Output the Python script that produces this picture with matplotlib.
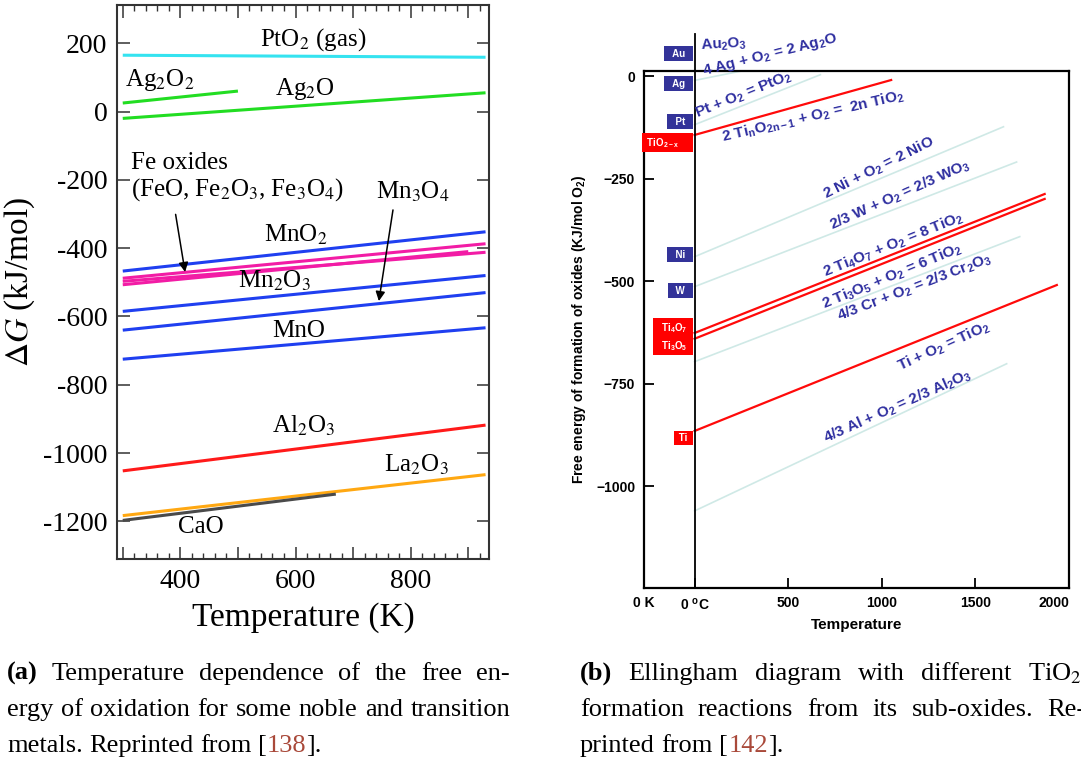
import matplotlib
matplotlib.use("Agg")
import matplotlib.pyplot as plt
from matplotlib.ticker import FixedLocator, FixedFormatter, MultipleLocator

plt.rcParams['mathtext.fontset'] = 'custom'
plt.rcParams['mathtext.rm'] = 'Liberation Sans:bold'
plt.rcParams['mathtext.it'] = 'Liberation Sans:bold'
plt.rcParams['mathtext.bf'] = 'Liberation Sans:bold'

# ---------------- (a) free energy of oxidation, kJ/mol vs K ----------------
a_names = ['PtO2', 'Ag2O2', 'Ag2O', 'MnO2', 'Fe1', 'Fe2', 'Fe3',
           'Mn2O3', 'Mn3O4', 'MnO', 'Al2O3', 'La2O3', 'CaO']
a_t0 = [300, 300, 300, 300, 300, 300, 300, 300, 300, 300, 300, 300, 300]
a_t1 = [930, 500, 930, 930, 930, 930, 900, 930, 930, 930, 930, 930, 670]
a_g0 = [165, 25, -20, -467, -488, -497, -507, -585, -640, -725, -1052, -1183, -1197]
a_g1 = [159, 60, 55, -352, -387, -412, -410, -480, -530, -633, -918, -1063, -1120]
a_colors = ['#35e3f0', '#22dd22', '#22dd22', '#1f3ff0', '#f21ca5', '#f21ca5', '#f21ca5',
            '#1f3ff0', '#1f3ff0', '#1f3ff0', '#ff1a1a', '#ffa812', '#4a4a4a']

a_labels = ['PtO$_2$ (gas)', 'Ag$_2$O$_2$', 'Ag$_2$O', 'MnO$_2$', 'Mn$_2$O$_3$',
            'Mn$_3$O$_4$', 'MnO', 'Al$_2$O$_3$', 'La$_2$O$_3$', 'CaO']
a_lab_t = [631, 365, 617, 600, 563, 803, 605, 614, 809, 436]
a_lab_g = [210, 93, 65, -362, -496, -234, -642, -920, -1034, -1215]

# ---------------- (b) Ellingham diagram, kJ/mol O2 vs degC ----------------
b_red_x0 = [0, 0, 0, 0]
b_red_x1 = [1050, 1870, 1870, 1935]
b_red_y0 = [-143, -626, -640, -865]
b_red_y1 = [-9, -287, -299, -509]

b_pale_x0 = [0, 0, 0, 0, 0, 0]
b_pale_x1 = [457, 672, 1650, 1720, 1737, 1667]
b_pale_y0 = [-10, -118, -440, -513, -696, -1060]
b_pale_y1 = [32, 4, -123, -209, -391, -701]

b_reactions = ['Au$_2$O$_3$', '4 Ag + O$_2$ = 2 Ag$_2$O', 'Pt + O$_2$ = PtO$_2$',
               '2 Ti$_\\mathrm{n}$O$_{\\mathrm{2n-1}}$ + O$_2$ =  2n TiO$_2$',
               '2 Ni + O$_2$ = 2 NiO', '2/3 W + O$_2$ = 2/3 WO$_3$',
               '2 Ti$_4$O$_7$ + O$_2$ = 8 TiO$_2$', '2 Ti$_3$O$_5$ + O$_2$ = 6 TiO$_2$',
               '4/3 Cr + O$_2$ = 2/3 Cr$_2$O$_3$', 'Ti + O$_2$ = TiO$_2$',
               '4/3 Al + O$_2$ = 2/3 Al$_2$O$_3$']
b_react_x = [155, 403, 263, 634, 984, 1097, 1059, 1054, 1172, 1333, 1086]
b_react_y = [77, 52, -45, -99, -223, -289, -411, -489, -516, -660, -806]
b_react_rot = [3, 14, 22, 13, 26.5, 24, 22, 22.4, 21, 24.4, 24]

b_boxes = ['  Au  ', '  Ag  ', '  Pt  ', ' TiO$_{\\mathrm{2-x}}$     ', '  Ni  ', '  W  ',
           '  Ti$_4$O$_7$  ', '  Ti$_3$O$_5$  ', ' Ti ']
b_box_y = [55, -18, -111, -162, -435, -523, -613, -657, -882]
b_box_col = ['#333399', '#333399', '#333399', '#ff0000', '#333399', '#333399',
             '#ff0000', '#ff0000', '#ff0000']

W, H = 1081, 764
fig = plt.figure(figsize=(W / 100, H / 100), dpi=100)

# ======================= panel (a) =======================
ax1 = fig.add_axes([117 / W, 1 - 559 / H, 372 / W, 554 / H])
for i in range(len(a_names)):
    ax1.plot([a_t0[i], a_t1[i]], [a_g0[i], a_g1[i]], color=a_colors[i], lw=2.2,
             solid_capstyle='butt')
ax1.set_xlim(290, 936)
ax1.set_ylim(-1310, 312)
serif = dict(family='Liberation Serif', math_fontfamily='stix')
for s, x, y in zip(a_labels, a_lab_t, a_lab_g):
    ax1.text(x, y, s, fontsize=18, ha='center', va='center', **serif)
ax1.text(315, -150, 'Fe oxides', fontsize=18, ha='left', va='center', **serif)
ax1.text(315, -228, '(FeO, Fe$_2$O$_3$, Fe$_3$O$_4$)', fontsize=18, ha='left',
         va='center', **serif)
arr = dict(arrowstyle='-|>', color='black', lw=1.1, mutation_scale=14)
ax1.annotate('', xy=(409, -478), xytext=(391, -293), arrowprops=arr)
ax1.annotate('', xy=(744, -563), xytext=(770, -280), arrowprops=arr)

ax1.xaxis.set_major_locator(FixedLocator([300, 400, 500, 600, 700, 800, 900]))
ax1.xaxis.set_major_formatter(FixedFormatter(['', '400', '', '600', '', '800', '']))
ax1.xaxis.set_minor_locator(MultipleLocator(20))
ax1.yaxis.set_major_locator(FixedLocator([200, 0, -200, -400, -600, -800, -1000, -1200]))
ax1.yaxis.set_major_formatter(FixedFormatter(['200', '0', '-200', '-400', '-600', '-800',
                                              '-1000', '-1200']))
ax1.tick_params(which='both', direction='in', top=True, right=True, color='#333333')
ax1.tick_params(which='major', length=9, width=1.1, labelsize=20, pad=7)
ax1.tick_params(which='minor', length=4, width=1.0)
for lab in ax1.get_xticklabels() + ax1.get_yticklabels():
    lab.set_family('Liberation Serif')
for sp in ax1.spines.values():
    sp.set_color('#333333')
    sp.set_linewidth(1.5)
ax1.set_xlabel('Temperature (K)', fontsize=24, family='Liberation Serif', labelpad=6)
ax1.set_ylabel('$\\mathit{\\Delta G}$ (kJ/mol)', fontsize=24, labelpad=4, **serif)

# ======================= panel (b) =======================
ax2 = fig.add_axes([643.5 / W, 1 - 588 / H, 425.5 / W, 517 / H])
for i in range(len(b_pale_x0)):
    ax2.plot([b_pale_x0[i], b_pale_x1[i]], [b_pale_y0[i], b_pale_y1[i]],
             color='#cfe9e6', lw=1.2)
for i in range(len(b_red_x0)):
    ax2.plot([b_red_x0[i], b_red_x1[i]], [b_red_y0[i], b_red_y1[i]],
             color='#ff0a0a', lw=1.6)
ax2.set_xlim(-273, 2000)
ax2.set_ylim(-1248, 13)
ax2.plot([0, 0], [-1248, 104], color='black', lw=1.3, clip_on=False)

navy = '#2e2ea0'
for s, x, y, r in zip(b_reactions, b_react_x, b_react_y, b_react_rot):
    ax2.text(x, y, s, fontsize=11, color=navy, fontweight='bold', family='Liberation Sans',
             rotation=r, rotation_mode='anchor', ha='center', va='center', clip_on=False)
for s, y, c in zip(b_boxes, b_box_y, b_box_col):
    ax2.text(-22, y, s, fontsize=7, color='white', fontweight='bold',
             family='Liberation Sans', ha='right', va='center', clip_on=False,
             bbox=dict(boxstyle='square,pad=0.25', fc=c, ec='none'))

ax2.set_xticks([-273, 0, 500, 1000, 1500, 2000])
ax2.set_xticklabels(['0 K', '0 $^\\mathrm{o}$C', '500', '1000', '1500', '2000'])
ax2.set_yticks([0, -250, -500, -750, -1000])
ax2.set_yticklabels(['0', '\u2212250', '\u2212500', '\u2212750', '\u22121000'])
ax2.tick_params(direction='in', length=7, width=1.3, labelsize=10, pad=6)
for lab in ax2.get_xticklabels() + ax2.get_yticklabels():
    lab.set_family('Liberation Sans')
    lab.set_fontweight('bold')
xl = ax2.get_xticklabels()
xl[-1].set_horizontalalignment('right')
xl[-1].set_x(2010)
for sp in ax2.spines.values():
    sp.set_linewidth(1.6)
ax2.set_xlabel('Temperature', fontsize=11, fontweight='bold', family='Liberation Sans',
               labelpad=4)
ax2.set_ylabel('Free energy of formation of oxides (KJ/mol O$_2$)', fontsize=10,
               fontweight='bold', family='Liberation Sans', labelpad=6)

# ======================= captions =======================
cap_fs = 19
brown = '#a9493a'
renderer = fig.canvas.get_renderer()


def put_line(words, x0, y, x1=None, last_start=None):
    placed = []
    for w in words:
        segs = []
        for s, kw in w:
            t = fig.text(0, 0, s, fontsize=cap_fs, family='Liberation Serif',
                         math_fontfamily='stix', va='baseline', ha='left', **kw)
            segs.append((t, t.get_window_extent(renderer).width))
        placed.append(segs)
    widths = [sum(wd for _, wd in segs) for segs in placed]
    if last_start is not None:
        gap = (last_start - x0 - sum(widths[:-1])) / (len(words) - 1)
    elif x1 is not None:
        gap = (x1 - x0 - sum(widths)) / (len(words) - 1)
    else:
        gap = 0.25 * cap_fs * 100 / 72
    x = x0
    for segs in placed:
        for t, wd in segs:
            t.set_position((x / W, 1 - y / H))
            x += wd
        x += gap


def plain(text):
    return [[(w, {})] for w in text.split()]


put_line([[('(a)', {'fontweight': 'bold'})]] + plain('Temperature dependence of the free en-'),
         7, 680, x1=510)
put_line(plain('ergy of oxidation for some noble and transition'), 7, 716, x1=510)
put_line(plain('metals. Reprinted from') + [[('[', {}), ('138', {'color': brown}),
                                             ('].', {})]], 7, 752)

put_line([[('(b)', {'fontweight': 'bold'})]] + plain('Ellingham diagram with different')
         + [[('TiO$_2$', {})]], 580, 680, last_start=1028)
put_line(plain('formation reactions from its sub-oxides.') + [[('Re-', {})]], 580, 716,
         last_start=1047)
put_line(plain('printed from') + [[('[', {}), ('142', {'color': brown}), ('].', {})]],
         580, 752)

fig.savefig('out.png', dpi=100)
